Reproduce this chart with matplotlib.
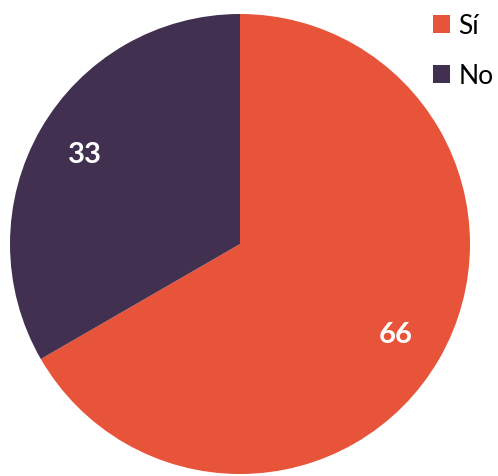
import matplotlib
matplotlib.use('Agg')
import matplotlib.pyplot as plt
from matplotlib.patches import Patch

labels = ['Sí', 'No']
values = [66, 33]
colors = ['#E8543A', '#413050']

plt.rcParams['font.family'] = ['Lato', 'DejaVu Sans']

fig = plt.figure(figsize=(4.98, 4.77), dpi=100)
# pie centre ~ (240, 245) px, radius ~230 px
ax = fig.add_axes([10 / 498, (477 - 245 - 230) / 477, 460 / 498, 460 / 477])
wedges, texts = ax.pie(values, colors=colors, startangle=90, counterclock=False,
                       labels=[str(v) for v in values], labeldistance=0.78,
                       textprops=dict(color='white', fontsize=21, fontweight='bold'))
for t in texts:
    t.set_ha('center')
    t.set_va('center')
ax.set_xlim(-1, 1)
ax.set_ylim(-1, 1)
ax.set_aspect('equal')

handles = [Patch(facecolor=c, edgecolor='none') for c in colors]
fig.legend(handles, labels, loc='upper left', bbox_to_anchor=(420 / 498, 1 - 1 / 477),
           frameon=False, fontsize=19, handlelength=0.65, handleheight=0.65,
           handletextpad=0.3, labelspacing=0.95, borderpad=0.0)

fig.savefig('out.png', dpi=100)
